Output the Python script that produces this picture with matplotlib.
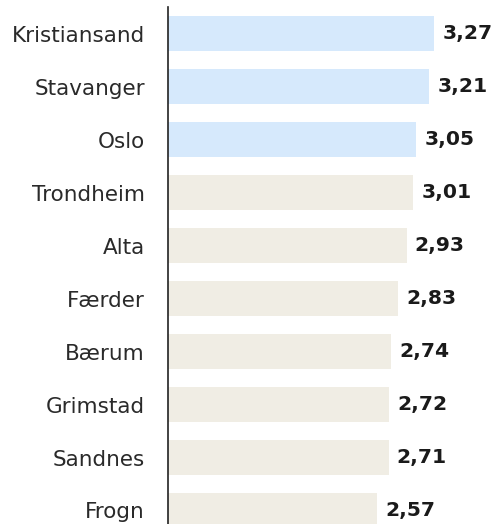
import matplotlib
matplotlib.use("Agg")
import matplotlib.pyplot as plt

cities = ["Kristiansand", "Stavanger", "Oslo", "Trondheim", "Alta",
          "Færder", "Bærum", "Grimstad", "Sandnes", "Frogn"]
values = [3.27, 3.21, 3.05, 3.01, 2.93, 2.83, 2.74, 2.72, 2.71, 2.57]
labels = ["3,27", "3,21", "3,05", "3,01", "2,93", "2,83", "2,74", "2,72", "2,71", "2,57"]
highlight = [True, True, True, False, False, False, False, False, False, False]

W, H = 500, 524
fig = plt.figure(figsize=(W/100, H/100), dpi=100)
ax = fig.add_axes([168/W, 0, 1 - 168/W, 1 - 7/H])

colors = ["#d6e9fc" if h else "#f0ede4" for h in highlight]
y = list(range(len(cities)))
ax.barh(y, values, height=0.66, color=colors, edgecolor="none")

for yi, v, lab in zip(y, values, labels):
    ax.text(v + 0.1, yi, lab, va="center", ha="left", fontsize=14.6,
            fontweight="bold", color="#1a1a1a", family="DejaVu Sans")

ax.set_xlim(0, 332/81.4)
ax.set_ylim((524 - 33.5)/53, -0.5)
ax.set_yticks(y)
ax.set_yticklabels(cities, fontsize=15.5, color="#2a2a2a", family="DejaVu Sans")
ax.tick_params(axis="y", length=0, pad=16.5)
ax.set_xticks([])
for s in ["top", "right", "bottom"]:
    ax.spines[s].set_visible(False)
ax.spines["left"].set_color("#222222")
ax.spines["left"].set_linewidth(1.2)

fig.savefig("out.png", dpi=100)
